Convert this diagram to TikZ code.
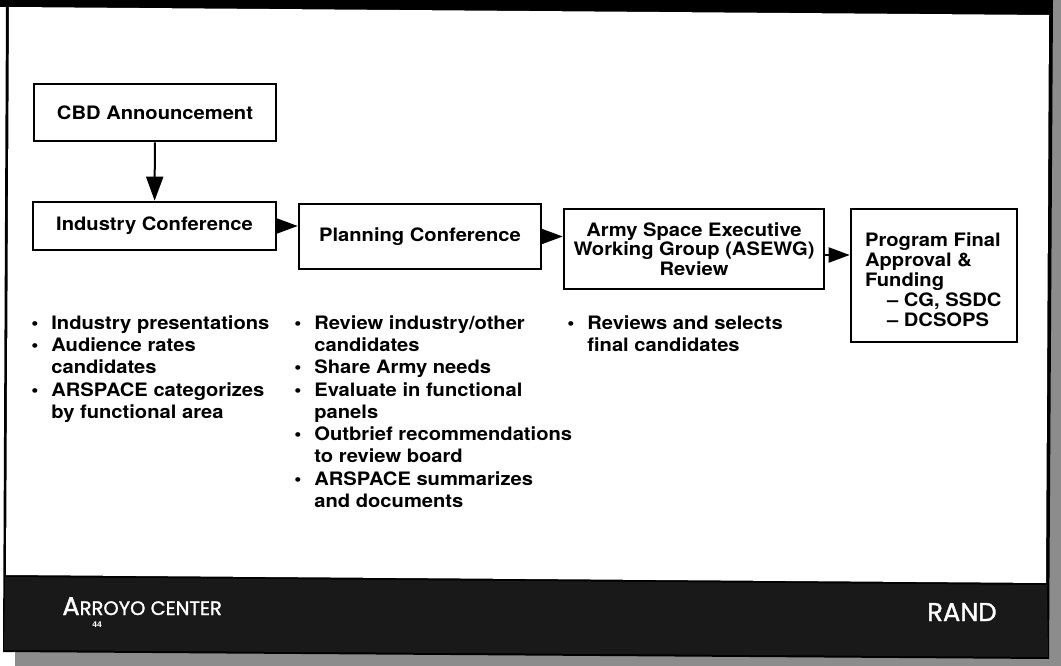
\documentclass[tikz,border=0pt]{standalone}
\usepackage{fontspec}
\setmainfont{TeX Gyre Heros}[FakeStretch=1.09]
\newfontfamily\bandfont{Poppins}[FakeBold=1.3]
\usetikzlibrary{arrows.meta}

\newcommand{\bitem}{\makebox[20pt][l]{\textbullet}}
\newcommand{\bcont}{\hspace*{20pt}}

\tikzset{every picture/.style={line width=0.75pt}}
\tikzset{
  stepbox/.style={draw, line width=2.6pt, inner sep=0pt, align=center,
    font=\bfseries\fontsize{18.5}{19.5}\selectfont},
  steparrow/.style={-{Triangle[length=21pt,width=15pt]}, line width=2pt},
  bullets/.style={anchor=north west, inner sep=0pt, align=left,
    font=\bfseries\fontsize{18.5}{22.3}\selectfont},
  bandtext/.style={anchor=base west, inner sep=0pt, text=white},
}

\begin{document}
\begin{tikzpicture}[x=1pt,y=1pt,yscale=-1,xscale=1]
\useasboundingbox (0,0) rectangle (1061,666);

%Slide frame and shadow
\fill[white] (0,0) rectangle (1061,666);
\fill[black!45] (15,0) rectangle (1061,666);
\fill[black] (0,0) -- (1053,0) -- (1049,659) -- (3,652) -- (6,7) -- (0,7) -- cycle;
\fill[black!90] (5,577) -- (1047,585) -- (1048,657) -- (4,650) -- cycle;
\fill[white] (9,7) -- (1049,15) -- (1046,583) -- (6,575) -- cycle;

% Boxes
\draw (155,112.5) node [stepbox, minimum width=242pt, minimum height=57pt] (cbd) {CBD Announcement};
\draw (154.5,226) node [stepbox, minimum width=243pt, minimum height=48pt] (ind) {Industry Conference};
\draw (420,236.5) node [stepbox, minimum width=242pt, minimum height=65pt] (plan) {Planning Conference};
\draw (694,249) node [stepbox, minimum width=260pt, minimum height=80pt] (asewg) {Army Space Executive\\Working Group (ASEWG)\\Review};
\draw (934,275.5) node [stepbox, minimum width=166pt, minimum height=133pt] (prog) {};
\draw (prog.north west) ++(15,25) node [anchor=north west, inner sep=0pt, align=left,
  font=\bfseries\fontsize{18.5}{20}\selectfont] (progtext)
  {Program Final\\Approval \&\\Funding\\\hspace*{22pt}– CG, SSDC\\\hspace*{22pt}– DCSOPS};

% Arrows
\draw [steparrow, -{Triangle[length=24pt,width=17pt]}] (cbd) -- (ind);
\draw [steparrow] (ind.east) -- (ind.east -| plan.west);
\draw [steparrow] (plan.east) -- (plan.east -| asewg.west);
\draw [steparrow] ([yshift=6pt]asewg.east) -- ([yshift=6pt]asewg.east -| prog.west);

% Text Node
\draw (31,315) node [bullets] (indlist)
  {\bitem Industry presentations\\
   \bitem Audience rates\\
   \bcont candidates\\
   \bitem ARSPACE categorizes\\
   \bcont by functional area};
% Text Node
\draw (294,315) node [bullets] (planlist)
  {\bitem Review industry/other\\
   \bcont candidates\\
   \bitem Share Army needs\\
   \bitem Evaluate in functional\\
   \bcont panels\\
   \bitem Outbrief recommendations\\
   \bcont to review board\\
   \bitem ARSPACE summarizes\\
   \bcont and documents};
% Text Node
\draw (567,315) node [bullets] (asewglist)
  {\bitem Reviews and selects\\
   \bcont final candidates};

% Band Text
\draw (62,615) node [bandtext] (arroyo)
  {\bandfont\fontsize{25.7}{26}\selectfont A\fontsize{19.5}{20}\selectfont RROYO CENTER};
\draw (92,627) node [bandtext, font=\bfseries\fontsize{8}{8}\selectfont] (pageno) {44};
\draw (927,621) node [bandtext] (rand)
  {\bandfont\fontsize{25.7}{26}\selectfont RAND};

\end{tikzpicture}
\end{document}
